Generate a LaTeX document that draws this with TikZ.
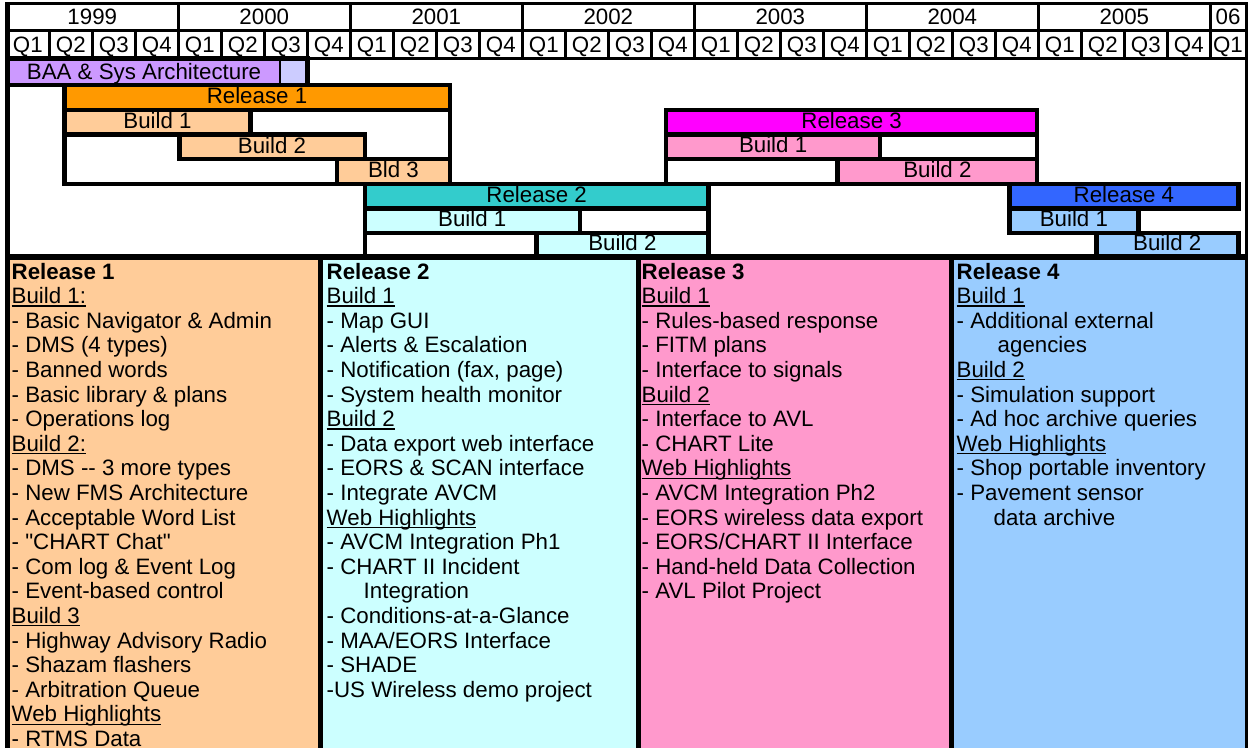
\documentclass[tikz,border=0pt]{standalone}
\usepackage{fontspec}
\setmainfont{Liberation Sans}[Ligatures=TeXOff]

\definecolor{baa}{RGB}{204,153,255}
\definecolor{baalight}{RGB}{204,204,255}
\definecolor{rOne}{RGB}{255,153,0}
\definecolor{rOneLight}{RGB}{255,204,153}
\definecolor{rTwo}{RGB}{51,204,204}
\definecolor{rTwoLight}{RGB}{204,255,255}
\definecolor{rThree}{RGB}{255,0,255}
\definecolor{rThreeLight}{RGB}{255,153,204}
\definecolor{rFour}{RGB}{51,102,255}
\definecolor{rFourLight}{RGB}{153,204,255}

% underlined heading inside the feature lists
\newcommand\ulhead[1]{\setbox0=\hbox{#1}\rlap{\rule[-3pt]{\wd0}{1.3pt}}\box0}
\newcommand\gfont{\fontsize{22.3}{24.6}\selectfont}

\tikzset{
  bar/.style={draw=black, line width=4.4pt},
  hdrline/.style={draw=black, line width=3pt},
  qline/.style={draw=black, line width=2.4pt},
  yline/.style={draw=black, line width=3.3pt},
  lbl/.style={anchor=base, inner sep=0pt, font=\gfont},
  item/.style={anchor=base west, inner sep=0pt, font=\gfont},
}

\begin{document}
\begin{tikzpicture}[x=1pt,y=-1pt]
\useasboundingbox (0,0) rectangle (1251,748);
\fill[white] (0,0) rectangle (1251,748);

% ---- feature table backgrounds ----
\fill[rOneLight]   (10,257)  rectangle (320.5,748);
\fill[rTwoLight]   (320.5,257) rectangle (638.5,748);
\fill[rThreeLight] (638.5,257) rectangle (951.5,748);
\fill[rFourLight]  (951.5,257) rectangle (1246.5,748);

% ---- BAA row ----
\fill[baa] (7.5,58.5) rectangle (279.5,85);
\fill[baalight] (279.5,58.5) rectangle (307.5,85);
\draw[line width=2pt] (279.5,58.5) -- (279.5,85);
\draw[bar] (7.5,58.5) rectangle (307.5,85);

% ---- Release 1 ----
\draw[bar, fill=white] (64.5,85) rectangle (450,183.8);
\draw[bar, fill=rOne] (64.5,85) rectangle (450,109.7);
\draw[bar, fill=rOneLight] (64.5,109.7) rectangle (250.5,134.4);
\draw[bar, fill=rOneLight] (179.5,134.4) rectangle (364.7,159.1);
\draw[bar, fill=rOneLight] (337,159.1) rectangle (450,183.8);

% ---- Release 2 ----
\draw[bar, fill=white] (365,183.8) rectangle (708.4,257);
\draw[bar, fill=rTwo] (365,183.8) rectangle (708.4,208.5);
\draw[bar, fill=rTwoLight] (365,208.5) rectangle (579.7,233.2);
\draw[bar, fill=rTwoLight] (536.3,233.2) rectangle (708.4,257);

% ---- Release 3 ----
\draw[bar, fill=white] (666,109.7) rectangle (1037.2,183.8);
\draw[bar, fill=rThree] (666,109.7) rectangle (1037.2,134.4);
\draw[bar, fill=rThreeLight] (666,134.4) rectangle (880.2,159.1);
\draw[bar, fill=rThreeLight] (837.5,159.1) rectangle (1037.2,183.8);

% ---- Release 4 ----
\draw[bar, fill=rFour] (1009.5,183.8) rectangle (1238.3,208.5);
\draw[bar, fill=rFourLight] (1009.5,208.5) rectangle (1138.3,233.2);
\draw[bar, fill=rFourLight] (1096.3,233.2) rectangle (1238.3,257);

% ---- table rules ----
\draw[line width=6pt] (7.5,257) -- (1246.5,257);
\foreach \cx in {320.5,638.5,951.5}
  \draw[line width=5pt] (\cx,257) -- (\cx,748);

% ---- header grid ----
\draw[hdrline] (7.5,3.5) -- (1246.5,3.5);
\draw[hdrline] (7.5,30.5) -- (1246.5,30.5);
\draw[yline] (7.5,58.5) -- (1246.5,58.5);
\foreach \q in {1,...,28} {
  \pgfmathtruncatemacro\qm{mod(\q,4)}
  \ifnum\qm=0
    \draw[yline] ({6.3+43*\q},3.5) -- ({6.3+43*\q},58.5);
  \else
    \draw[qline] ({6.3+43*\q},30.5) -- ({6.3+43*\q},58.5);
  \fi
}

% ---- outer frame ----
\draw[line width=5pt] (7.5,2) -- (7.5,748);
\draw[line width=3pt] (1246.5,2) -- (1246.5,748);

% ---- header labels ----
\foreach \yr [count=\k from 0] in {1999,2000,2001,2002,2003,2004,2005}
  \node[lbl] (yr\yr) at ({92.3+172*\k},24) {\yr};
\node[lbl] (yr2006) at (1228,24) {06};
\foreach \q in {0,...,27} {
  \pgfmathtruncatemacro\qn{mod(\q,4)+1}
  \node[lbl] (q\q) at ({27.8+43*\q},52) {Q\qn};
}
\node[lbl] (q28) at (1228,52) {Q1};

% ---- bar labels ----
\node[lbl] (baaL) at (144,79) {BAA \& Sys Architecture};
\node[lbl] (r1L)  at (257,103.5) {Release 1};
\node[lbl] (r1b1) at (157.5,128.3) {Build 1};
\node[lbl] (r1b2) at (272,153) {Build 2};
\node[lbl] (r1b3) at (393.5,177.7) {Bld 3};
\node[lbl] (r2L)  at (536.7,202.2) {Release 2};
\node[lbl] (r2b1) at (472.3,226.9) {Build 1};
\node[lbl] (r2b2) at (622.4,250.5) {Build 2};
\node[lbl] (r3L)  at (851.6,128.1) {Release 3};
\node[lbl] (r3b1) at (773.1,152.8) {Build 1};
\node[lbl] (r3b2) at (937.4,177.5) {Build 2};
\node[lbl] (r4L)  at (1123.9,202.2) {Release 4};
\node[lbl] (r4b1) at (1073.9,226.9) {Build 1};
\node[lbl] (r4b2) at (1167.3,250.5) {Build 2};

% ---- feature lists ----
\foreach \t [count=\i] in {
  {\textbf{Release 1}}, {\ulhead{Build 1:}},
  {- Basic Navigator \& Admin}, {- DMS (4 types)}, {- Banned words},
  {- Basic library \& plans}, {- Operations log},
  {\ulhead{Build 2:}},
  {- DMS -- 3 more types}, {- New FMS Architecture}, {- Acceptable Word List},
  {- "CHART Chat"}, {- Com log \& Event Log}, {- Event-based control},
  {\ulhead{Build 3}},
  {- Highway Advisory Radio}, {- Shazam flashers}, {- Arbitration Queue},
  {\ulhead{Web Highlights}}, {- RTMS Data}}
  \node[item] (c1l\i) at (11.5,{279+24.6*(\i-1)}) {\t};

\foreach \t [count=\i] in {
  {\textbf{Release 2}}, {\ulhead{Build 1}},
  {- Map GUI}, {- Alerts \& Escalation}, {- Notification (fax, page)},
  {- System health monitor},
  {\ulhead{Build 2}},
  {- Data export web interface}, {- EORS \& SCAN interface}, {- Integrate AVCM},
  {\ulhead{Web Highlights}},
  {- AVCM Integration Ph1}, {- CHART II Incident}, {\hspace*{37pt}Integration},
  {- Conditions-at-a-Glance}, {- MAA/EORS Interface}, {- SHADE},
  {-US Wireless demo project}}
  \node[item] (c2l\i) at (326.5,{279+24.6*(\i-1)}) {\t};

\foreach \t [count=\i] in {
  {\textbf{Release 3}}, {\ulhead{Build 1}},
  {- Rules-based response}, {- FITM plans}, {- Interface to signals},
  {\ulhead{Build 2}},
  {- Interface to AVL}, {- CHART Lite},
  {\ulhead{Web Highlights}},
  {- AVCM Integration Ph2}, {- EORS wireless data export},
  {- EORS/CHART II Interface}, {- Hand-held Data Collection},
  {- AVL Pilot Project}}
  \node[item] (c3l\i) at (641.5,{279+24.6*(\i-1)}) {\t};

\foreach \t [count=\i] in {
  {\textbf{Release 4}}, {\ulhead{Build 1}},
  {- Additional external}, {\hspace*{41pt}agencies},
  {\ulhead{Build 2}},
  {- Simulation support}, {- Ad hoc archive queries},
  {\ulhead{Web Highlights}},
  {- Shop portable inventory}, {- Pavement sensor},
  {\hspace*{37pt}data archive}}
  \node[item] (c4l\i) at (956.5,{279+24.6*(\i-1)}) {\t};
\end{tikzpicture}
\end{document}
